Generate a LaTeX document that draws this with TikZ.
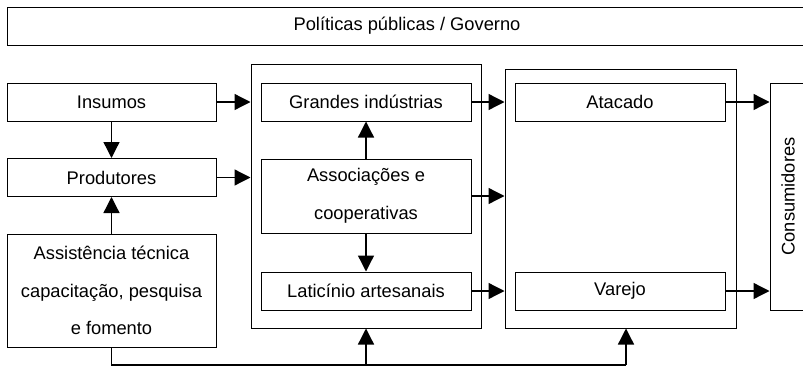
\documentclass[tikz,border=0pt]{standalone}
\usepackage{fontspec}
\setmainfont{Liberation Sans}
\usetikzlibrary{arrows.meta}
\begin{document}
\begin{tikzpicture}[x=1pt,y=-1pt,
  box/.style={draw, line width=1pt, inner sep=0pt, align=center,
    font=\fontsize{18.3}{37.5}\selectfont},
  frame/.style={draw, line width=1pt, inner sep=0pt},
  conn/.style={line width=1.3pt, -{Triangle[length=16pt,width=16pt]}},
  link/.style={line width=1.3pt}]
\useasboundingbox (0,0) rectangle (803,367);
\clip (0,0) rectangle (803,367);
% outer frames
\node[frame, minimum width=230pt, minimum height=264pt] (box1) at (366,196) {};
\node[frame, minimum width=231pt, minimum height=259pt] (box2) at (620.5,198.5) {};
% boxes
\node[box, minimum width=800pt, minimum height=38pt] (gov) at (407,26) {Políticas públicas / Governo};
\node[box, minimum width=209pt, minimum height=38pt] (ins) at (111.5,102) {Insumos};
\node[box, minimum width=209pt, minimum height=38pt] (prod) at (111.5,177.5) {Produtores};
\node[box, minimum width=209pt, minimum height=113pt] (assist) at (111.5,290.5) {Assistência técnica\\capacitação, pesquisa\\e fomento};
\node[box, minimum width=210pt, minimum height=38pt] (gi) at (366,102) {Grandes indústrias};
\node[box, minimum width=210pt, minimum height=74pt] (assoc) at (366,196) {Associações e\\cooperativas};
\node[box, minimum width=210pt, minimum height=38pt] (lat) at (366,291) {Laticínio artesanais};
\node[box, minimum width=210pt, minimum height=38pt] (atac) at (620,102) {Atacado};
\node[box, minimum width=210pt, minimum height=38pt] (var) at (620,291) {Varejo};
\node[box, minimum width=36pt, minimum height=227pt,
  label={[rotate=90, anchor=center, font=\fontsize{18.3}{22}\selectfont]center:Consumidores}] (cons) at (788,196.5) {};
% connectors
\draw[conn] (ins.south) -- (prod.north);
\draw[conn] (assist.north) -- (prod.south);
\draw[conn] (ins.east) -- (ins.east -| box1.west);
\draw[conn] (prod.east) -- (prod.east -| box1.west);
\draw[conn] (assoc.north) -- (gi.south);
\draw[conn] (assoc.south) -- (lat.north);
\draw[conn] (gi.east) -- (gi.east -| box2.west);
\draw[conn] (assoc.east) -- (assoc.east -| box2.west);
\draw[conn] (lat.east) -- (lat.east -| box2.west);
\draw[conn] (atac.east) -- (atac.east -| cons.west);
\draw[conn] (var.east) -- (var.east -| cons.west);
% bottom feedback line
\coordinate (b2) at (626,365);
\coordinate (b1) at (366,365);
\draw[link] (assist.south) |- (b2);
\draw[conn] (b2) -- (b2 |- box2.south);
\draw[conn] (b1) -- (box1.south);
\end{tikzpicture}
\end{document}
